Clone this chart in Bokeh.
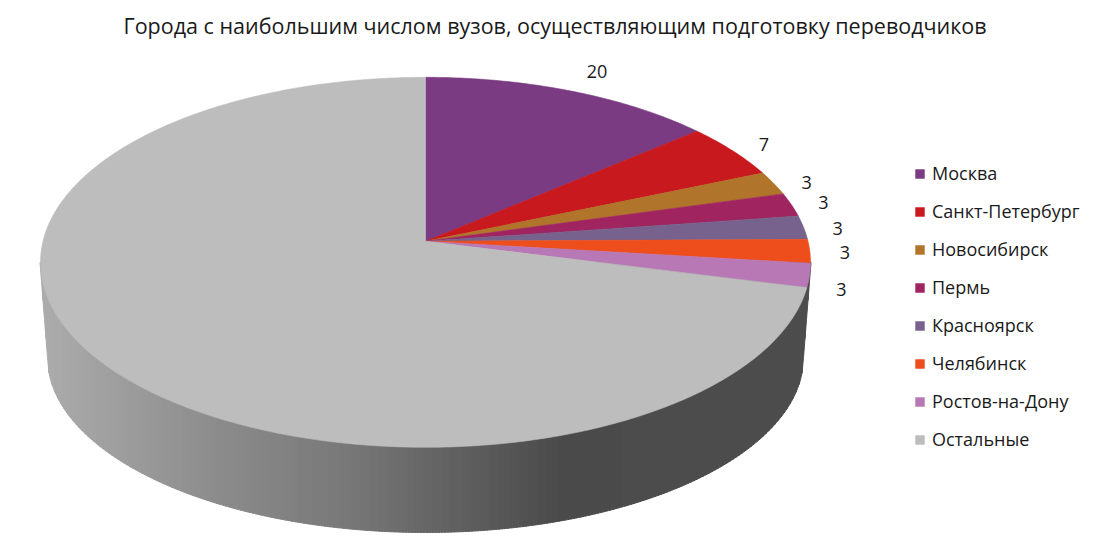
import numpy as np
from bokeh.embed import file_html
from bokeh.resources import INLINE
from bokeh.plotting import figure
from bokeh.models import ColumnDataSource, Legend, LegendItem, Range1d
from bokeh.core.properties import value

title_text = "Города с наибольшим числом вузов, осуществляющим подготовку переводчиков"
cities = ["Москва", "Санкт-Петербург", "Новосибирск", "Пермь", "Красноярск", "Челябинск", "Ростов-на-Дону", "Остальные"]
counts = [20, 7, 3, 3, 3, 3, 3, 103]
shown = [True, True, True, True, True, True, True, False]
colors = ["#7b3b82", "#c8191f", "#b0742a", "#a0245f", "#76628c", "#ee4e1c", "#b877b5", "#bdbdbd"]
label_dx = [26, 31, 33, 32, 34, 35, 32, 0]
label_dy = [-20, -6, -1, -2, 1, 1, 14, 0]

FONT = "Open Sans"
TITLE_H = 48
W, H = 1094, 555

# Perspective projection of the pie's circular top face (pixel coordinates of the page)
CX, CY, A, B, K = 425.0, 241.8, 382.5, 182.6, 0.1135


def project(theta):
    u, v = np.sin(theta), np.cos(theta)
    d = 1 + K * v
    return CX + A * u / d, CY - B * v / d


p = figure(width=W, frame_width=W, frame_height=H - TITLE_H, output_backend="svg", toolbar_location=None,
           x_range=Range1d(0, W), y_range=Range1d(H, TITLE_H),
           min_border=0, min_border_left=0, min_border_right=0, min_border_top=0, min_border_bottom=0,
           outline_line_color=None, background_fill_color="white", border_fill_color="white")
p.xaxis.visible = False
p.yaxis.visible = False
p.grid.visible = False

p.title.text = title_text
p.title.text_font = FONT
p.title.text_font_size = "21.5px"
p.title.text_font_style = "normal"
p.title.text_color = "#1a1a1a"
p.title.align = "left"
p.title.offset = 115
p.title.standoff = 0
p.title.padding = 8

# Side wall of the pie: shaded by horizontal position
shade_x = [40, 220, 350, 425, 560, 811]
shade_v = [172, 139, 120, 103, 75, 77]
TOP_Y, TOP_RX = 262.8, 385.5
BOT_Y, BOT_RX, BOT_RY = 358.0, 378.0, 175.0


def side_bottom(x):
    dx = np.abs(x - CX)
    inside = dx < BOT_RX
    y = np.empty_like(x)
    y[inside] = BOT_Y + BOT_RY * np.sqrt(1 - (dx[inside] / BOT_RX) ** 2)
    y[~inside] = TOP_Y + (TOP_RX - dx[~inside]) / (TOP_RX - BOT_RX) * (BOT_Y - TOP_Y)
    return y


edges = np.arange(CX - TOP_RX, CX + TOP_RX + 3, 3.0)
edges[-1] = min(edges[-1], CX + TOP_RX)
xs, ys, cs = [], [], []
for a, b in zip(edges[:-1], edges[1:]):
    xx = np.linspace(a, b, 3)
    xs.append(list(xx) + [b, a])
    ys.append(list(side_bottom(xx)) + [TOP_Y, TOP_Y])
    g = int(round(np.interp((a + b) / 2, shade_x, shade_v)))
    cs.append(f"#{g:02x}{g:02x}{g:02x}")
p.patches("xs", "ys", source=ColumnDataSource(dict(xs=xs, ys=ys, c=cs)),
          fill_color="c", line_color="c", line_width=1)

# Top face: one wedge per city, angle taken from its count
bounds = np.concatenate([[0], np.cumsum(counts)]) / sum(counts) * 2 * np.pi
items = []
renderers = []
for name, color, t0, t1 in zip(cities, colors, bounds[:-1], bounds[1:]):
    th = np.linspace(t0, t1, max(4, int((t1 - t0) * 80)))
    ex, ey = project(th)
    r = p.patch([CX, *ex], [CY, *ey], fill_color=color, line_color=color, line_width=0.6)
    renderers.append(r)
    items.append(LegendItem(label=name, renderers=[r]))

# Value labels placed relative to each wedge's rim
mids = (bounds[:-1] + bounds[1:]) / 2
lx, ly, lt = [], [], []
for m, c, s, dx, dy in zip(mids, counts, shown, label_dx, label_dy):
    if s:
        x0, y0 = project(m)
        lx.append(float(x0) + dx)
        ly.append(float(y0) + dy)
        lt.append(str(c))
p.text(lx, ly, text=lt, text_font=value(FONT), text_font_size="18px", text_color="#1a1a1a",
       text_align="center", text_baseline="middle")

legend = Legend(items=items, location=(914, 103), orientation="vertical",
                background_fill_alpha=0, border_line_color=None, margin=0, padding=0,
                glyph_width=11, glyph_height=11, label_height=20, spacing=14,
                label_standoff=7, label_text_font=FONT, label_text_font_size="18px",
                label_text_color="#1a1a1a", label_text_baseline="middle")
p.add_layout(legend, "center")

open("out.html", "w").write(file_html(p, INLINE))
